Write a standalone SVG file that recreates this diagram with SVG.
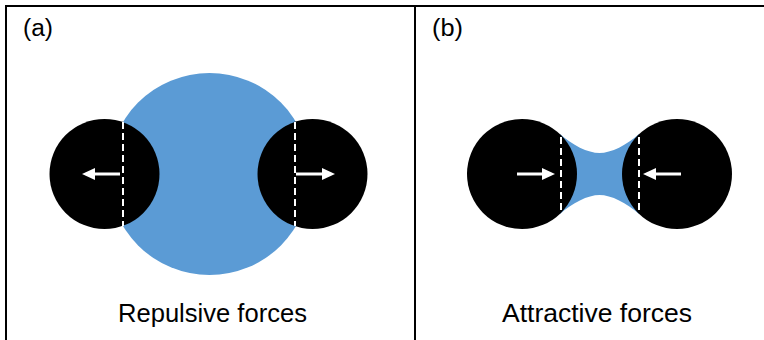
<svg xmlns="http://www.w3.org/2000/svg" width="764" height="340" viewBox="0 0 764 340">
  <style>
    .frame { stroke: #000; stroke-width: 2; fill: none; }
    .blue { fill: #5B9BD5; }
    .ball { fill: #000; }
    .dash { stroke: #fff; stroke-width: 2; stroke-dasharray: 7,4; fill: none; }
    .arrow { stroke: #fff; stroke-width: 3; fill: none; marker-end: url(#head); }
    .label { font-family: "Liberation Sans", Arial, sans-serif; fill: #000; }
    .tag { font-size: 23px; }
    .caption { font-size: 25px; }
  </style>
  <defs>
    <marker id="head" markerUnits="userSpaceOnUse" markerWidth="14" markerHeight="13" refX="0" refY="6" orient="auto" viewBox="0 0 14 12">
      <path d="M0,0 L13,6 L0,12 Z" fill="#fff"/>
    </marker>
  </defs>
  <rect width="764" height="340" fill="#fff"/>
  <g id="frame">
    <line class="frame" x1="5" y1="6" x2="764" y2="6"/>
    <line class="frame" x1="6" y1="5" x2="6" y2="340"/>
    <line class="frame" x1="415" y1="5" x2="415" y2="340"/>
  </g>

  <g id="panel-a">
    <text class="label tag" x="23" y="36" textLength="30" lengthAdjust="spacingAndGlyphs">(a)</text>
    <g id="a-fluid"><circle class="blue" cx="209.5" cy="174" r="101"/></g>
    <g id="a-left-ball">
      <circle class="ball" cx="104.5" cy="174" r="55"/>
      <line class="dash" x1="123" y1="122" x2="123" y2="226"/>
    </g>
    <g id="a-right-ball">
      <circle class="ball" cx="312.5" cy="174" r="55"/>
      <line class="dash" x1="295" y1="122" x2="295" y2="226"/>
    </g>
    <text class="label caption" x="118" y="322" textLength="189" lengthAdjust="spacingAndGlyphs">Repulsive forces</text>
  </g>

  <g id="panel-b">
    <text class="label tag" x="432" y="36" textLength="31" lengthAdjust="spacingAndGlyphs">(b)</text>
    <g id="b-fluid">
      <path class="blue" d="M560,134 C572,145 588,153 599.5,153 C611,153 627,145 639,134 L639,214 C627,203 611,195 599.5,195 C588,195 572,203 560,214 Z"/>
    </g>
    <g id="b-left-ball">
      <circle class="ball" cx="522" cy="174" r="55"/>
      <line class="dash" x1="561" y1="137" x2="561" y2="210"/>
    </g>
    <g id="b-right-ball">
      <circle class="ball" cx="677" cy="174" r="55"/>
      <line class="dash" x1="639" y1="137" x2="639" y2="210"/>
    </g>
    <text class="label caption" x="502" y="322" textLength="190" lengthAdjust="spacingAndGlyphs">Attractive forces</text>
  </g>

  <g id="connectors">
    <line class="arrow" x1="120" y1="174" x2="95" y2="174"/>
    <line class="arrow" x1="296" y1="174" x2="322" y2="174"/>
    <line class="arrow" x1="517" y1="174" x2="542" y2="174"/>
    <line class="arrow" x1="681" y1="174" x2="656" y2="174"/>
  </g>
</svg>
